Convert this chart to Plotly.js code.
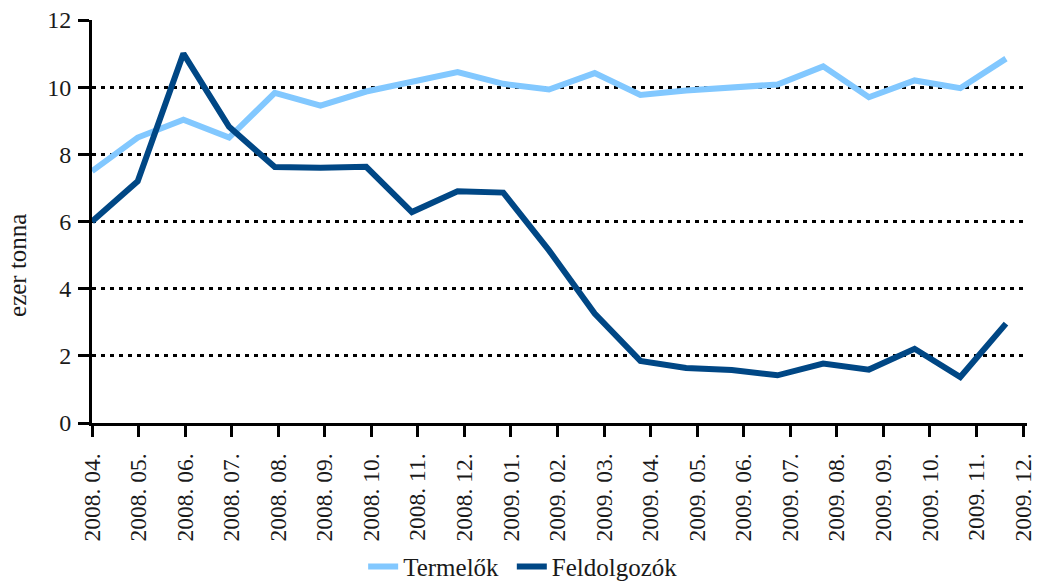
<!DOCTYPE html>
<html>
<head>
<meta charset="utf-8">
<script src="https://cdn.plot.ly/plotly-3.0.1.min.js"></script>
<style>html,body{margin:0;padding:0;background:#fff;}#chart{width:1039px;height:582px;}</style>
</head>
<body>
<div id="chart"></div>
<script>
const categories = ['2008. 04.','2008. 05.','2008. 06.','2008. 07.','2008. 08.','2008. 09.','2008. 10.','2008. 11.','2008. 12.','2009. 01.','2009. 02.','2009. 03.','2009. 04.','2009. 05.','2009. 06.','2009. 07.','2009. 08.','2009. 09.','2009. 10.','2009. 11.','2009. 12.'];
const termelok = [7.5, 8.5, 9.03, 8.5, 9.83, 9.45, 9.87, 10.15, 10.45, 10.1, 9.93, 10.42, 9.77, 9.9, 10.0, 10.08, 10.62, 9.7, 10.2, 9.97, 10.85];
const feldolgozok = [6.0, 7.2, 11.0, 8.82, 7.62, 7.6, 7.63, 6.28, 6.9, 6.86, 5.14, 3.26, 1.85, 1.64, 1.58, 1.42, 1.77, 1.59, 2.21, 1.37, 2.96];
const yTicks = [0, 2, 4, 6, 8, 10, 12];
const seriesNames = ['Termelők', 'Feldolgozók'];
const yTitle = 'ezer tonna';

const FONT = 'Liberation Serif';
const TXT = '#1a1a1a';
const traces = [
  {x: categories, y: termelok, name: seriesNames[0], type: 'scatter', mode: 'lines',
   line: {color: '#82c8ff', width: 6}, xaxis: 'x', yaxis: 'y', legend: 'legend'},
  {x: categories, y: feldolgozok, name: seriesNames[1], type: 'scatter', mode: 'lines',
   line: {color: '#004785', width: 6}, xaxis: 'x', yaxis: 'y', legend: 'legend2'},
  {x: categories, y: categories.map(() => null), type: 'scatter', mode: 'lines',
   showlegend: false, hoverinfo: 'skip', xaxis: 'x2', yaxis: 'y'}
];

const legendBase = {orientation: 'h', xref: 'paper', xanchor: 'left',
  yref: 'container', y: 0.026, yanchor: 'middle', bgcolor: 'rgba(0,0,0,0)',
  font: {family: FONT, size: 25, color: TXT}};

const layout = {
  width: 1039, height: 582,
  margin: {l: 92, r: 12, t: 20, b: 159},
  paper_bgcolor: '#fff', plot_bgcolor: '#fff',
  font: {family: FONT, size: 24, color: TXT},
  showlegend: true,
  legend: Object.assign({}, legendBase, {x: 0.29}),
  legend2: Object.assign({}, legendBase, {x: 0.449}),
  xaxis: {type: 'category', categoryarray: categories, categoryorder: 'array', automargin: false,
          range: [0, 20.46], showticklabels: false, ticks: '', showline: false,
          showgrid: false, zeroline: false, fixedrange: true},
  xaxis2: {type: 'category', categoryarray: categories, categoryorder: 'array', automargin: false,
           overlaying: 'x', anchor: 'y', side: 'bottom',
           range: [0, 20.086], tickmode: 'array', tickvals: categories, ticktext: categories,
           tickangle: -90, ticks: 'outside', ticklen: 11, tickwidth: 3, tickcolor: '#000',
           ticklabelstandoff: 7,
           showline: true, linecolor: '#000', linewidth: 3, showgrid: false, zeroline: false,
           tickfont: {family: FONT, size: 23.5, color: TXT}},
  yaxis: {range: [0, 12], tickmode: 'array', tickvals: yTicks, ticktext: yTicks.map(String), automargin: false,
          ticks: 'outside', ticklen: 11, tickwidth: 3, tickcolor: '#000',
          ticklabelstandoff: 2,
          showline: true, linecolor: '#000', linewidth: 3,
          showgrid: true, gridcolor: '#000', gridwidth: 3, griddash: '4px,5px',
          zeroline: false, tickfont: {family: FONT, size: 24, color: TXT}},
  annotations: [{text: yTitle, xref: 'paper', yref: 'paper', x: -0.079, y: 0.39,
                 xanchor: 'center', yanchor: 'middle', textangle: -90, showarrow: false,
                 font: {family: FONT, size: 25, color: TXT}}]
};

Plotly.newPlot('chart', traces, layout, {displayModeBar: false, staticPlot: true});
</script>
</body>
</html>
